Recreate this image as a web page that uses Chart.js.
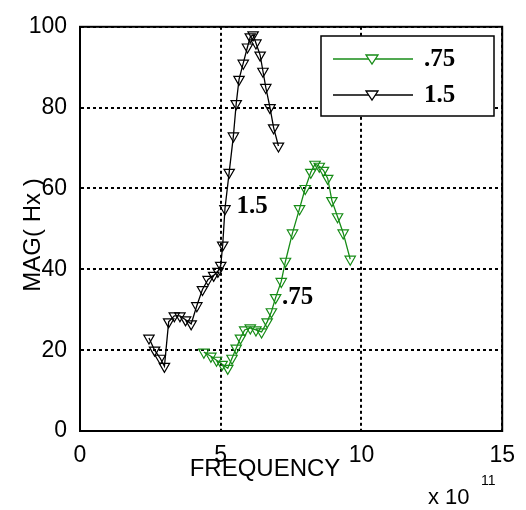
<!DOCTYPE html>
<html lang="en">
<head>
    <meta charset="UTF-8">
    <title>MAG vs FREQUENCY</title>
    <script src="https://cdn.jsdelivr.net/npm/chart.js"></script>
    <style>
        body { margin: 0; background: #fff; }
        .wrap { position: relative; width: 526px; height: 510px; }
    </style>
</head>
<body>
    <div class="wrap">
        <canvas id="magChart" width="526" height="510"></canvas>
    </div>

    <script>
        // frequency in units of 1e11
        const freq15 = [2.45, 2.65, 2.85, 3.0, 3.15, 3.35, 3.55, 3.75, 3.95, 4.15, 4.35, 4.55, 4.75, 4.9, 5.0, 5.07, 5.15, 5.3, 5.45, 5.55, 5.65, 5.8, 5.95, 6.05, 6.15, 6.25, 6.4, 6.5, 6.6, 6.75, 6.88, 7.05];
        const mag15 = [23, 20, 18, 16, 27, 28.5, 28.5, 27.5, 26.5, 31, 35, 37.5, 38.5, 39.5, 41, 46, 55, 64, 73, 81, 87, 91, 95, 97.5, 98, 96, 93, 89, 85, 80, 75, 70.5];

        const freq075 = [4.4, 4.65, 4.85, 5.05, 5.25, 5.4, 5.55, 5.7, 5.85, 6.05, 6.25, 6.45, 6.65, 6.8, 6.95, 7.15, 7.3, 7.55, 7.8, 8.0, 8.2, 8.35, 8.5, 8.65, 8.8, 8.95, 9.15, 9.35, 9.6];
        const mag075 = [19.5, 18.5, 17.5, 16.5, 15.5, 18, 20.5, 23, 25, 25.5, 25, 24.5, 27, 29.5, 33, 37, 42, 49, 55, 60, 64, 66, 65.5, 64.5, 62.5, 57, 53, 49, 42.5];

        const xTicks = [0, 5, 10, 15];
        const yTicks = [0, 20, 40, 60, 80, 100];
        const seriesNames = ['.75', '1.5'];

        const green = '#178c17';
        const toPoints = (xs, ys) => xs.map((x, i) => ({ x: x, y: ys[i] }));

        // box, legend, labels that sit on the plot
        const decorPlugin = {
            id: 'decor',
            afterDraw(chart) {
                const ctx = chart.ctx;
                const a = chart.chartArea;
                const xs = chart.scales.x, ys = chart.scales.y;
                ctx.save();

                // full frame
                ctx.strokeStyle = '#000';
                ctx.lineWidth = 2;
                ctx.strokeRect(a.left, a.top, a.right - a.left, a.bottom - a.top);

                // curve labels
                ctx.fillStyle = '#000';
                ctx.font = 'bold 25px "Liberation Serif", serif';
                ctx.textBaseline = 'middle';
                ctx.textAlign = 'left';
                ctx.fillText('1.5', xs.getPixelForValue(5.56), ys.getPixelForValue(55.5));
                ctx.fillText('.75', xs.getPixelForValue(7.18), ys.getPixelForValue(33));

                // legend
                const lx = 321, ly = 36, lw = 173, lh = 80;
                ctx.fillStyle = '#fff';
                ctx.fillRect(lx, ly, lw, lh);
                ctx.lineWidth = 1.5;
                ctx.strokeRect(lx, ly, lw, lh);
                const rows = [{ c: green, y: 59 }, { c: '#000', y: 95 }];
                rows.forEach((r, i) => {
                    ctx.strokeStyle = r.c;
                    ctx.lineWidth = 1.3;
                    ctx.beginPath();
                    ctx.moveTo(333, r.y);
                    ctx.lineTo(413, r.y);
                    ctx.stroke();
                    ctx.beginPath();
                    ctx.moveTo(366, r.y - 4);
                    ctx.lineTo(378, r.y - 4);
                    ctx.lineTo(372, r.y + 5);
                    ctx.closePath();
                    ctx.fillStyle = '#fff';
                    ctx.fill();
                    ctx.stroke();
                    ctx.fillStyle = '#000';
                    ctx.font = 'bold 25px "Liberation Serif", serif';
                    ctx.fillText(seriesNames[i], 424, r.y + 1);
                });

                // axis titles
                ctx.fillStyle = '#000';
                ctx.font = '24px "Liberation Sans", Arial, sans-serif';
                ctx.textAlign = 'center';
                ctx.fillText('FREQUENCY', 265, 469);
                ctx.save();
                ctx.translate(33, 235);
                ctx.rotate(-Math.PI / 2);
                ctx.fillText('MAG( Hx )', 0, 0);
                ctx.restore();

                // exponent
                ctx.textAlign = 'left';
                ctx.font = '22px "Liberation Sans", Arial, sans-serif';
                ctx.fillText('x 10', 428, 498);
                ctx.font = '14px "Liberation Sans", Arial, sans-serif';
                ctx.fillText('11', 481, 481);

                ctx.restore();
            }
        };

        const tickFont = { family: '"Liberation Sans", Arial, sans-serif', size: 23 };

        new Chart(document.getElementById('magChart'), {
            type: 'scatter',
            data: {
                datasets: [
                    {
                        label: seriesNames[0],
                        data: toPoints(freq075, mag075),
                        showLine: true,
                        borderColor: green,
                        borderWidth: 1.3,
                        pointStyle: 'triangle',
                        rotation: 180,
                        pointRadius: 6,
                        pointBorderWidth: 1.2,
                        pointBorderColor: green,
                        pointBackgroundColor: 'rgba(0,0,0,0)'
                    },
                    {
                        label: seriesNames[1],
                        data: toPoints(freq15, mag15),
                        showLine: true,
                        borderColor: '#000',
                        borderWidth: 1.3,
                        pointStyle: 'triangle',
                        rotation: 180,
                        pointRadius: 6,
                        pointBorderWidth: 1.2,
                        pointBorderColor: '#000',
                        pointBackgroundColor: 'rgba(0,0,0,0)'
                    }
                ]
            },
            options: {
                responsive: false,
                animation: false,
                layout: { padding: { top: 20, right: 19, left: 0, bottom: 0 } },
                plugins: {
                    legend: { display: false },
                    tooltip: { enabled: false }
                },
                scales: {
                    x: {
                        type: 'linear',
                        min: 0,
                        max: 15,
                        afterBuildTicks: s => { s.ticks = xTicks.map(v => ({ value: v })); },
                        afterFit: s => { s.height = 79; },
                        ticks: { font: tickFont, color: '#000', padding: 11, maxRotation: 0 },
                        grid: { color: '#000', lineWidth: 2, drawTicks: false },
                        border: { display: true, color: '#000', width: 2, dash: [3, 3] }
                    },
                    y: {
                        type: 'linear',
                        min: 0,
                        max: 100,
                        afterBuildTicks: s => { s.ticks = yTicks.map(v => ({ value: v })); },
                        afterFit: s => { s.width = 80; },
                        ticks: { font: tickFont, color: '#000', padding: 13 },
                        grid: { color: '#000', lineWidth: 2, drawTicks: false },
                        border: { display: true, color: '#000', width: 2, dash: [3, 3] }
                    }
                }
            },
            plugins: [decorPlugin]
        });
    </script>
</body>
</html>
